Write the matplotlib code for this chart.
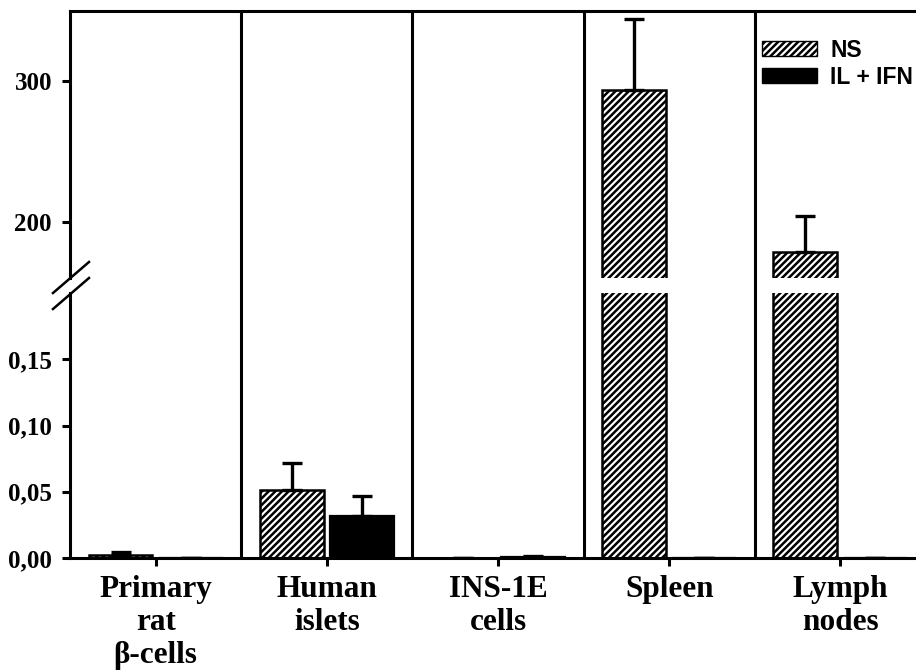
import matplotlib
matplotlib.use("Agg")
import matplotlib.pyplot as plt
from matplotlib.patches import Patch
from matplotlib.lines import Line2D
import numpy as np

categories = ["Primary\nrat\nβ-cells", "Human\nislets", "INS-1E\ncells", "Spleen", "Lymph\nnodes"]
ns_values = [0.0023, 0.051, 0.0001, 294.0, 178.5]
ns_err = [0.0022, 0.021, 0.0002, 50.0, 25.5]
il_values = [0.0, 0.032, 0.0005, 0.0, 0.0]
il_err = [0.0, 0.0146, 0.001, 0.0, 0.0]
series_labels = ["NS", "IL + IFN"]
low_ticks = [0.0, 0.05, 0.10, 0.15]
low_ticklabels = ["0,00", "0,05", "0,10", "0,15"]
high_ticks = [200, 300]
high_ticklabels = ["200", "300"]

plt.rcParams['hatch.linewidth'] = 1.8
W, H = 916, 670
fig = plt.figure(figsize=(W / 100, H / 100), dpi=100)

def fx(px):
    return px / W

def fy(py):
    return 1 - py / H

left_px, right_px = 70, 926
top_px, upper_bot_px = 11, 278
lower_top_px, base_px = 293, 558

ax_hi = fig.add_axes([fx(left_px), fy(upper_bot_px), fx(right_px - left_px), (upper_bot_px - top_px) / H])
ax_lo = fig.add_axes([fx(left_px), fy(base_px), fx(right_px - left_px), (base_px - lower_top_px) / H])
ax_ov = fig.add_axes([fx(left_px), fy(base_px), fx(right_px - left_px), (base_px - top_px) / H], zorder=5)
ax_ov.patch.set_visible(False)

x = np.arange(len(categories))
off = 0.205
bw = 0.372
lw = 2.2
hatch = "/////"
tick_font = dict(family="Liberation Serif", weight="bold", size=18)

for ax in (ax_hi, ax_lo):
    ax.bar(x - off, ns_values, bw, color="white", edgecolor="black", hatch=hatch, linewidth=1.8, zorder=2)
    ax.bar(x + off, il_values, bw, color="black", edgecolor="black", linewidth=1.6, zorder=2)
    ax.errorbar(x - off, ns_values, yerr=[np.zeros(len(x)), ns_err], fmt="none", ecolor="black",
                elinewidth=2.4, capsize=7.2, capthick=2.4, zorder=3)
    ax.errorbar(x + off, il_values, yerr=[np.zeros(len(x)), il_err], fmt="none", ecolor="black",
                elinewidth=2.4, capsize=7.2, capthick=2.4, zorder=3)
    ax.set_xlim(-0.5, 4.5)
    ax.spines['right'].set_visible(False)
    ax.spines['left'].set_linewidth(lw)
    ax.tick_params(axis='y', direction='out', length=6, width=lw, pad=7)
    ax.set_facecolor('none')

ax_hi.set_ylim(160, 350)
ax_hi.spines['bottom'].set_visible(False)
ax_hi.spines['top'].set_linewidth(lw)
ax_hi.set_xticks([])
ax_hi.set_yticks(high_ticks)
ax_hi.set_yticklabels(high_ticklabels, fontdict=tick_font)

ax_lo.set_ylim(0, 0.2)
ax_lo.spines['top'].set_visible(False)
ax_lo.spines['bottom'].set_linewidth(lw)
ax_lo.set_yticks(low_ticks)
ax_lo.set_yticklabels(low_ticklabels, fontdict=tick_font)
ax_lo.set_xticks(x)
ax_lo.set_xticklabels(categories, fontdict=dict(family="Liberation Serif", weight="bold", size=22.5),
                      linespacing=1.2)
ax_lo.tick_params(axis='x', direction='out', length=6, width=lw, pad=6)

# overlay: group separators
ax_ov.set_xlim(-0.5, 4.5)
ax_ov.set_ylim(0, 1)
ax_ov.axis('off')
for s in [0.5, 1.5, 2.5, 3.5]:
    ax_ov.axvline(s, color="black", linewidth=lw)

# break marks on the y axis
for (x0, y0, x1, y1) in [(53, 293, 89, 262), (53, 309, 89, 278)]:
    fig.add_artist(Line2D([fx(x0), fx(x1)], [fy(y0), fy(y1)], color="black", linewidth=1.8))

handles = [Patch(facecolor="white", edgecolor="black", hatch=hatch, linewidth=1.0),
           Patch(facecolor="black", edgecolor="black")]
leg = fig.legend(handles, series_labels, loc="upper left", bbox_to_anchor=(fx(757), fy(34)),
                 frameon=False, prop=dict(family="Liberation Sans", weight="bold", size=16.5),
                 handlelength=2.4, handleheight=0.65, labelspacing=0.18, handletextpad=0.6,
                 borderaxespad=0, borderpad=0.2)

fig.savefig("out.png", dpi=100)
